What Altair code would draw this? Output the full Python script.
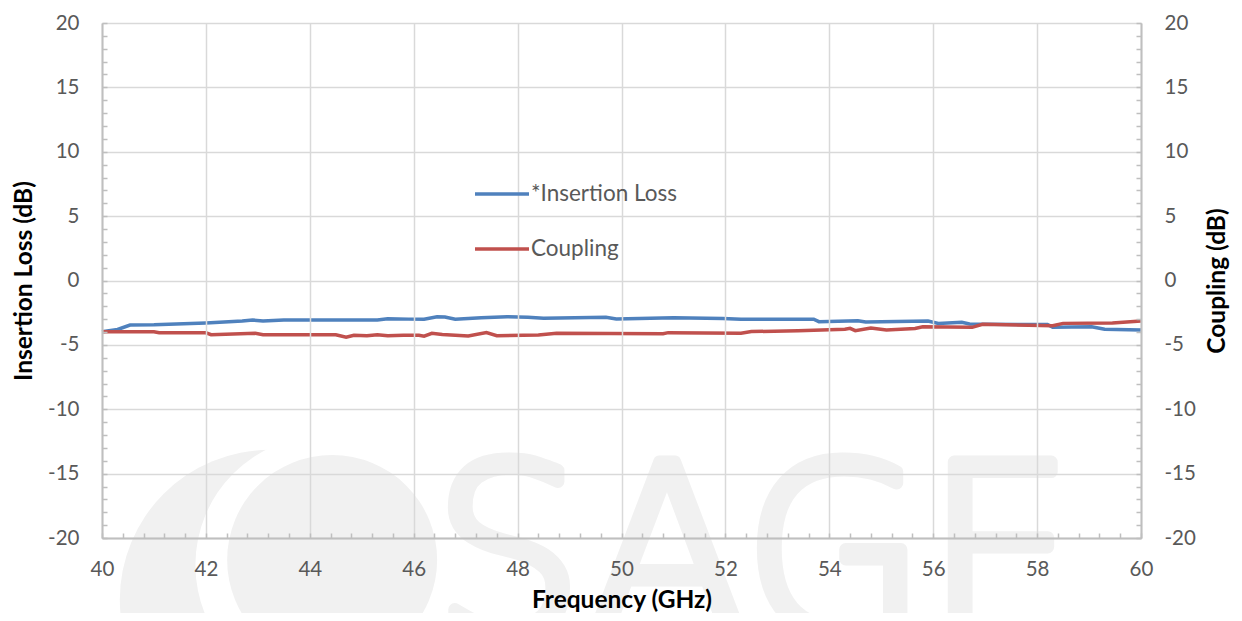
import altair as alt
import pandas as pd

# Insertion loss (blue)
il_freq = [40.0, 40.3, 40.54, 41.0, 42.0, 42.7, 42.9, 43.1, 43.5, 44.5, 45.3, 45.5, 45.9, 46.2,
           46.45, 46.6, 46.8, 47.3, 47.8, 48.2, 48.5, 49.7, 49.9, 51.0, 51.95, 52.3, 53.7, 53.8,
           54.55, 54.7, 55.9, 56.1, 56.55, 56.7, 57.0, 58.2, 58.3, 59.05, 59.3, 60.0]
il_val = [-3.98, -3.8, -3.46, -3.44, -3.3, -3.15, -3.07, -3.15, -3.07, -3.07, -3.07, -2.97, -3.0, -3.0,
          -2.81, -2.83, -3.0, -2.9, -2.81, -2.85, -2.93, -2.86, -2.99, -2.9, -2.96, -3.01, -3.01, -3.2,
          -3.12, -3.22, -3.15, -3.33, -3.25, -3.38, -3.4, -3.42, -3.64, -3.59, -3.79, -3.84]

# Coupling (red)
cp_freq = [40.0, 41.0, 41.1, 42.0, 42.1, 42.95, 43.1, 44.5, 44.7, 44.85, 45.1, 45.3, 45.5, 45.8,
           46.1, 46.2, 46.35, 46.55, 47.05, 47.4, 47.6, 48.4, 48.75, 50.8, 50.9, 52.3, 52.5, 53.4,
           54.3, 54.4, 54.5, 54.8, 55.1, 55.65, 55.8, 56.75, 56.95, 58.3, 58.5, 59.45, 60.0]
cp_val = [-3.98, -3.98, -4.06, -4.06, -4.21, -4.1, -4.21, -4.21, -4.41, -4.25, -4.3, -4.22, -4.3, -4.25,
          -4.25, -4.32, -4.1, -4.2, -4.31, -4.05, -4.29, -4.23, -4.1, -4.13, -4.05, -4.1, -3.97, -3.9,
          -3.79, -3.72, -3.9, -3.69, -3.84, -3.72, -3.59, -3.64, -3.4, -3.51, -3.33, -3.3, -3.15]

series_names = ["*Insertion Loss", "Coupling"]
series_colors = ["#4F81BD", "#C0504D"]

x_major = [40, 42, 44, 46, 48, 50, 52, 54, 56, 58, 60]
y_major = [-20, -15, -10, -5, 0, 5, 10, 15, 20]
x_minor = [round(40 + 0.4 * i, 1) for i in range(51)]
y_minor = list(range(-20, 21))

# watermark (background decoration)
wm_text = ["SAGE"]
wm_x = [52.55]
wm_y = [-13.0]
logo_x = [43.23, 44.29, 44.43]
logo_y = [-24.8, -22.1, -21.7]
logo_part = ["outer", "gap", "inner"]

df = pd.DataFrame({
    "freq": il_freq + cp_freq,
    "value": il_val + cp_val,
    "series": [series_names[0]] * len(il_freq) + [series_names[1]] * len(cp_freq),
})
wm = pd.DataFrame({"freq": wm_x, "value": wm_y, "text": wm_text})
logo = pd.DataFrame({"freq": logo_x, "value": logo_y, "part": logo_part, "order": [0, 1, 2]})

FONT = "Lato"
GRID = "#d9d9d9"
AX = "#bfbfbf"
LBL = "#595959"
WM = "#f1f1f1"
LAB = "replace(datum.label, '\u2212', '-')"

xs = alt.Scale(domain=[40, 60], nice=False, zero=False)
ys = alt.Scale(domain=[-20, 20], nice=False, zero=False)

watermark = alt.Chart(wm).mark_text(
    font="DejaVu Sans", fontWeight=200, fontSize=235, color=WM,
    stroke=WM, strokeWidth=13, strokeJoin="round",
    baseline="top", align="center", clip=False
).encode(
    x=alt.X("freq:Q", scale=xs, axis=None),
    y=alt.Y("value:Q", scale=ys, axis=None),
    text="text:N",
)

logo_marks = alt.Chart(logo).mark_point(shape="circle", filled=True, opacity=1, clip=False).encode(
    x=alt.X("freq:Q", scale=xs, axis=None),
    y=alt.Y("value:Q", scale=ys, axis=None),
    size=alt.Size("part:N", scale=alt.Scale(domain=["outer", "gap", "inner"],
                                            range=[90000, 44100, 25600]), legend=None),
    fill=alt.Fill("part:N", scale=alt.Scale(domain=["outer", "gap", "inner"],
                                            range=[WM, "#ffffff", WM]), legend=None),
    order="order:Q",
)

lines = alt.Chart(df).mark_line(strokeWidth=3.5, interpolate="linear").encode(
    x=alt.X("freq:Q", scale=xs, axis=alt.Axis(
        orient="bottom", values=x_major, title="Frequency (GHz)", grid=True, gridColor=GRID,
        gridWidth=1.5, ticks=False, domainColor=AX, domainWidth=2, labelFont=FONT,
        labelFontSize=20.5, labelColor=LBL, labelPadding=21, labelFlush=False,
        titleFont=FONT, titleFontSize=24.5, titleFontWeight="bold", titleColor="black",
        titlePadding=9, zindex=1, labelExpr=LAB)),
    y=alt.Y("value:Q", scale=ys, axis=alt.Axis(
        orient="left", values=y_major, title="Insertion Loss (dB)", grid=True, gridColor=GRID,
        gridWidth=1.5, ticks=False, domainColor=AX, domainWidth=2, labelFont=FONT,
        labelFontSize=20.5, labelColor=LBL, labelPadding=23, labelFlush=False,
        titleFont=FONT, titleFontSize=24.5, titleFontWeight="bold", titleColor="black",
        titlePadding=11, zindex=1, labelExpr=LAB)),
    color=alt.Color("series:N", scale=alt.Scale(domain=series_names, range=series_colors),
                    legend=alt.Legend(
                        orient="none", legendX=371, legendY=142, title=None,
                        symbolType="stroke", symbolSize=2916, symbolStrokeWidth=3.5,
                        labelFont=FONT, labelFontSize=22.5, labelColor=LBL, labelOffset=0,
                        rowPadding=14, padding=0, zindex=1)),
    detail="series:N",
)

right_axis = alt.Chart(df).mark_line(opacity=0).encode(
    x=alt.X("freq:Q", scale=xs, axis=None),
    y=alt.Y("value:Q", scale=ys, axis=alt.Axis(
        orient="right", values=y_major, title="Coupling (dB)", grid=False, ticks=False,
        domainColor=AX, domainWidth=2, labelFont=FONT, labelFontSize=20.5, labelColor=LBL,
        labelPadding=23, labelFlush=False, titleFont=FONT, titleFontSize=24.5,
        titleFontWeight="bold", titleColor="black", titlePadding=10, titleAngle=270,
        titleBaseline="top", zindex=1, labelExpr=LAB)),
    detail="series:N",
)

minor_left = alt.Chart(df).mark_line(opacity=0).encode(
    x=alt.X("freq:Q", scale=xs, axis=None),
    y=alt.Y("value:Q", scale=ys, axis=alt.Axis(
        orient="left", values=y_minor, title=None, labels=False, domain=False, grid=False,
        ticks=True, tickSize=5, tickColor=AX, tickWidth=1.5, offset=-5, zindex=1)),
    detail="series:N",
)

minor_right = alt.Chart(df).mark_line(opacity=0).encode(
    x=alt.X("freq:Q", scale=xs, axis=None),
    y=alt.Y("value:Q", scale=ys, axis=alt.Axis(
        orient="right", values=y_minor, title=None, labels=False, domain=False, grid=False,
        ticks=True, tickSize=5, tickColor=AX, tickWidth=1.5, offset=-5, zindex=1)),
    detail="series:N",
)

minor_bottom = alt.Chart(df).mark_line(opacity=0).encode(
    x=alt.X("freq:Q", scale=xs, axis=alt.Axis(
        orient="bottom", values=x_minor, title=None, labels=False, domain=False, grid=False,
        ticks=True, tickSize=5, tickColor=AX, tickWidth=1.5, offset=-5, zindex=1)),
    y=alt.Y("value:Q", scale=ys, axis=None),
    detail="series:N",
)

chart = alt.layer(
    logo_marks, watermark, lines, right_axis, minor_left, minor_right, minor_bottom
).resolve_scale(
    x="shared", y="shared", size="independent", fill="independent"
).resolve_axis(
    x="independent", y="independent"
).properties(
    width=1039, height=515,
    autosize=alt.AutoSizeParams(type="none"),
    padding={"left": 94, "top": 15, "right": 93, "bottom": 75},
).configure_view(
    stroke=None
).configure(
    background="white"
)

chart.save("out.html", embed_options={"renderer": "svg", "actions": False})
